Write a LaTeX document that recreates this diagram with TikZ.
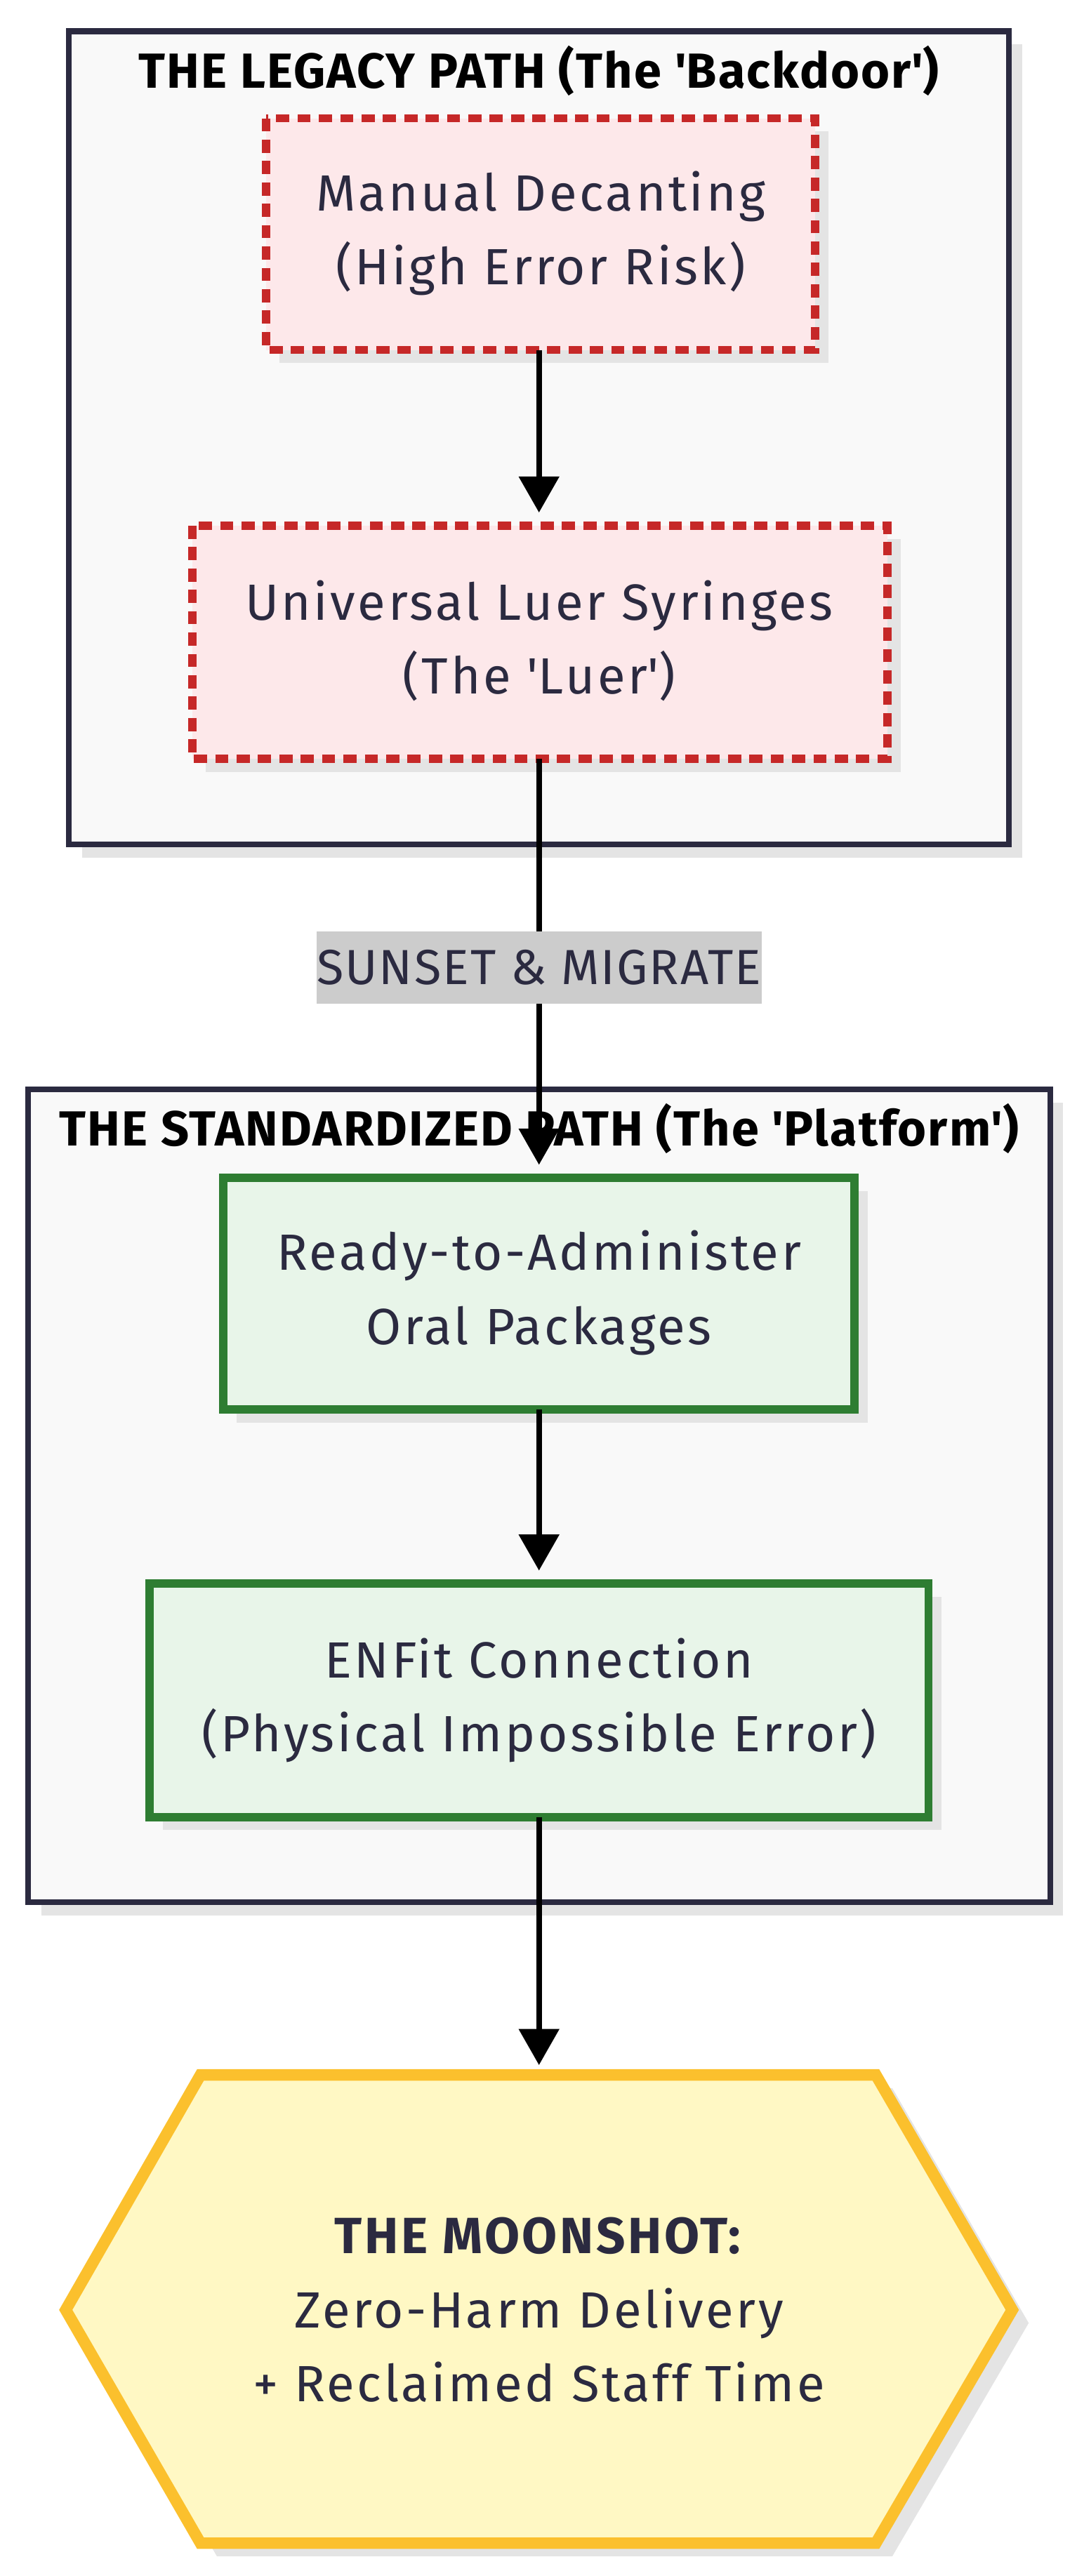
\documentclass[tikz,border=0pt]{standalone}
\usepackage{fontspec}
\setmainfont{Fira Sans}
\usetikzlibrary{arrows.meta,shapes.geometric}
\definecolor{frame}{HTML}{2B2A40}
\definecolor{txt}{HTML}{2B2A40}
\definecolor{redb}{HTML}{C62828}
\definecolor{redf}{HTML}{FDE8EA}
\definecolor{greenb}{HTML}{2E7D32}
\definecolor{greenf}{HTML}{E8F5E9}
\definecolor{yelb}{HTML}{FBC02D}
\definecolor{yelf}{HTML}{FFF8C4}
\definecolor{shad}{HTML}{E4E4E4}
\begin{document}
\begin{tikzpicture}[x=1pt,y=-1pt,
  grp/.style={draw=frame,line width=3.5pt,fill=white!97!frame},
  legacy/.style={draw=redb,line width=5pt,dash pattern=on 8pt off 5pt,fill=redf},
  std/.style={draw=greenb,line width=5pt,fill=greenf},
  lbl/.style={text=txt,font=\fontsize{31}{45}\selectfont\addfontfeature{LetterSpace=5},align=center},
  ttl/.style={font=\bfseries\fontsize{30}{34}\selectfont\addfontfeature{LetterSpace=3},text=black},
  arr/.style={line width=3.5pt,-{Triangle[length=22pt,width=24pt]}}]
\useasboundingbox (0,0) rectangle (655,1568);
% legacy group
\fill[shad] (50,27) rectangle (622,522);
\draw[grp] (42,19) rectangle (614,514);
\node[ttl] (t1) at (328,43) {THE LEGACY PATH (The \textquotesingle Backdoor\textquotesingle)};
\fill[shad] (170,80) rectangle (504,221);
\draw[legacy] (162,72) rectangle (496,213);
\node[lbl] (md) at (329,142) {Manual Decanting\\(High Error Risk)};
\fill[shad] (125,328) rectangle (548,470);
\draw[legacy] (117,320) rectangle (540,462);
\node[lbl] (ul) at (328,390) {Universal Luer Syringes\\(The \textquotesingle Luer\textquotesingle)};
% standard group
\fill[shad] (25,671) rectangle (647,1166);
\draw[grp] (17,663) rectangle (639,1158);
\fill[shad] (144,725) rectangle (528,866);
\draw[std] (136,717) rectangle (520,858);
\node[lbl] (ra) at (328,787) {Ready-to-Administer\\Oral Packages};
\fill[shad] (99,972) rectangle (573,1114);
\draw[std] (91,964) rectangle (565,1106);
\node[lbl] (en) at (328,1035) {ENFit Connection\\(Physical Impossible Error)};
% hexagon
\fill[shad] (132,1271) -- (543,1271) -- (626,1414) -- (543,1556) -- (132,1556) -- (50,1414) -- cycle;
\draw[draw=yelb,line width=7pt,fill=yelf] (122,1263) -- (533,1263) -- (616,1406) -- (533,1548) -- (122,1548) -- (40,1406) -- cycle;
\node[lbl] (ms) at (328,1406) {\textbf{THE MOONSHOT:}\\Zero-Harm Delivery\\+ Reclaimed Staff Time};
% arrows
\coordinate (a1) at (328,213); \coordinate (a1e) at (328,312);
\coordinate (a2) at (328,462); \coordinate (a2e) at (328,709);
\coordinate (a3) at (328,858); \coordinate (a3e) at (328,956);
\coordinate (a4) at (328,1106); \coordinate (a4e) at (328,1257);
\draw[arr] (a1) -- (a1e);
\draw[arr] (a2) -- (a2e);
\draw[arr] (a3) -- (a3e);
\draw[arr] (a4) -- (a4e);
\node[fill=black!20,text=txt,font=\fontsize{30}{32}\selectfont\addfontfeature{LetterSpace=3},minimum width=271pt,minimum height=44pt,inner sep=0pt] (sm) at (328,589) {SUNSET \& MIGRATE};
\node[ttl] (t2) at (328,687) {THE STANDARDIZED PATH (The \textquotesingle Platform\textquotesingle)};
\end{tikzpicture}
\end{document}
